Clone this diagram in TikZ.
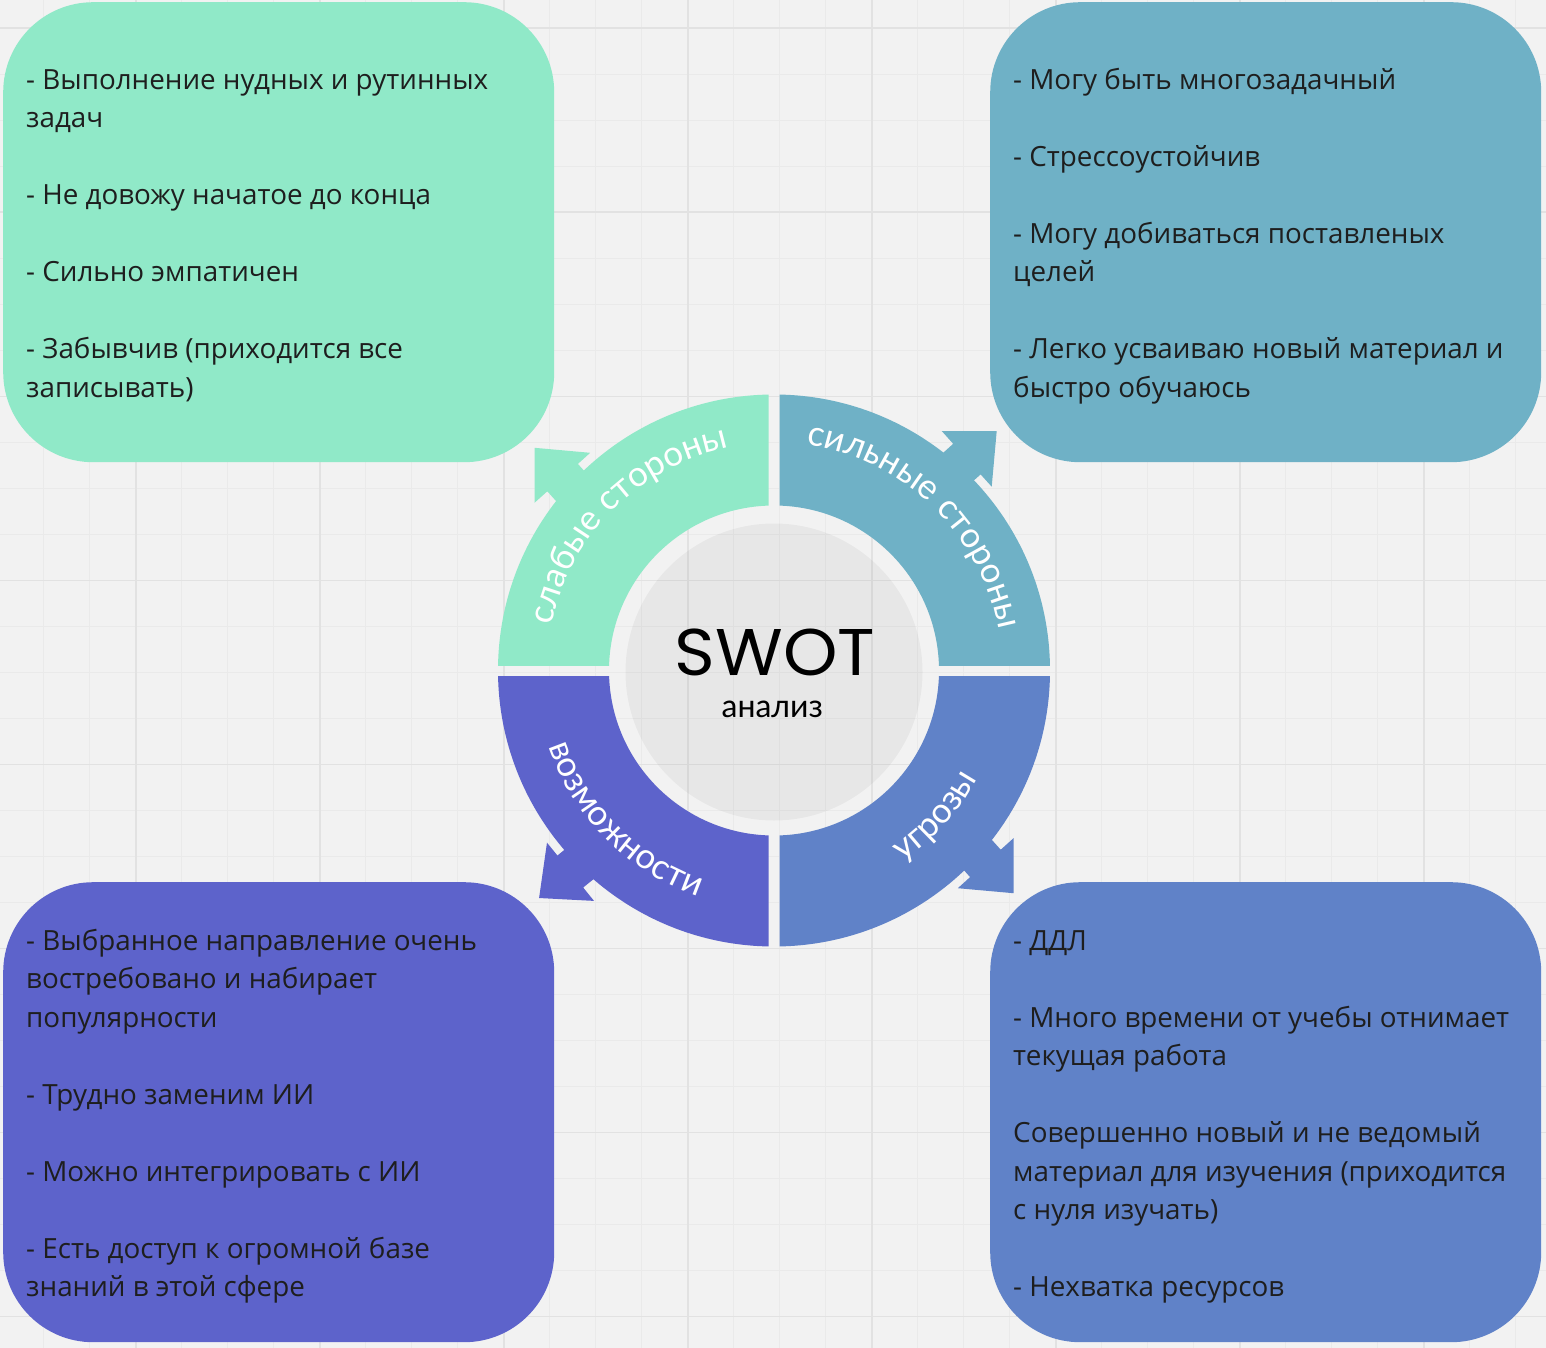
\documentclass[tikz,border=0pt]{standalone}
\usepackage{fontspec}
\setmainfont{Open Sans}
\newfontfamily\arcfont{Lato}
\newfontfamily\titlefont{Poppins}
\usetikzlibrary{calc,decorations.text}

\definecolor{bg}{HTML}{F2F2F2}
\definecolor{gridminor}{HTML}{EAEAEA}
\definecolor{gridmajor}{HTML}{E2E2E2}
\definecolor{weakc}{HTML}{90E9C8}
\definecolor{strongc}{HTML}{6FB1C6}
\definecolor{oppc}{HTML}{5D63CB}
\definecolor{threatc}{HTML}{6082C8}
\definecolor{ink}{HTML}{1E1E1E}

\newcommand\arcstyle{\arcfont\fontsize{35}{35}\selectfont\color{white}}
% one text line inside a card: name, x, baseline y, text
\newcommand\cardline[4]{\node[cardtext] (#1) at (#2,-#3) {#4};}
% arrow head with its neck, drawn for the upper right segment and rotated about the centre
\newcommand\headshape{(941.7,-431) -- (996.7,-431) -- (991.7,-486.7) -- (980.6,-474.4)
  -- (962,-491.1) -- (934.6,-460.5) -- (953.2,-443.8) -- cycle}

\begin{document}
\begin{tikzpicture}[x=1pt,y=1pt,
  card/.style={rounded corners=90pt, inner sep=0pt, anchor=north west,
    minimum width=551pt, minimum height=460pt},
  cardtext/.style={anchor=base west, inner sep=0pt, text=ink,
    font=\fontsize{27.8}{38.5}\selectfont},
  ring/.style={even odd rule}]

% canvas and grid
\fill[bg] (0,0) rectangle (1546,-1348);
\useasboundingbox (0,0) rectangle (1546,-1348);
\foreach \i in {0,...,32} \draw[gridminor, line width=1.2pt] ({43.7+46*\i},0) -- ++(0,-1348);
\foreach \i in {0,...,28} \draw[gridminor, line width=1.2pt] (0,{-28.3-46*\i}) -- ++(1546,0);
\foreach \i in {0,...,7} \draw[gridmajor, line width=1.6pt] ({135.7+184*\i},0) -- ++(0,-1348);
\foreach \i in {0,...,7} \draw[gridmajor, line width=1.6pt] (0,{-28.3-184*\i}) -- ++(1546,0);

% four cards
\node[card, fill=weakc]   (weakbox)   at (3,-2)     {};
\node[card, fill=strongc] (strongbox) at (990,-2)   {};
\node[card, fill=oppc]    (oppbox)    at (3,-882)   {};
\node[card, fill=threatc] (threatbox) at (990,-882) {};

% ring centre
\coordinate (C) at (774,-670.5);

% ring segments
\begin{scope}
  \clip (400,-300) rectangle (768.5,-665);
  \fill[weakc, ring] (C) circle (276) (C) circle (165);
  \fill[weakc, rotate around={90:(C)}] \headshape;
\end{scope}
\begin{scope}
  \clip (779.5,-300) rectangle (1150,-665);
  \fill[strongc, ring] (C) circle (276) (C) circle (165);
  \fill[strongc] \headshape;
\end{scope}
\begin{scope}
  \clip (400,-676) rectangle (768.5,-1050);
  \fill[oppc, ring] (C) circle (276) (C) circle (165);
  \fill[oppc, rotate around={-183:(C)}] \headshape;
\end{scope}
\begin{scope}
  \clip (779.5,-676) rectangle (1150,-1050);
  \fill[threatc, ring] (C) circle (276) (C) circle (165);
  \fill[threatc, rotate around={-90:(C)}] \headshape;
\end{scope}

% centre disc
\fill[black, opacity=0.045] (774,-672) circle (148.5);
\node[font=\titlefont\fontsize{66}{66}\selectfont, anchor=base, inner sep=0pt] (swot) at (775,-675) {\scalebox{1.05}[1]{SWOT}};
\node[font=\arcfont\fontsize{32}{32}\selectfont, anchor=base, inner sep=0pt] (analysis) at (772.3,-717.3) {анализ};

% segment labels
\path[decorate, decoration={text along path, text align=center,
  text={|\arcstyle|слабые стороны}}] ($(C)+(180:227)$) arc (180:90:227);
\path[decorate, decoration={text along path, text align=center,
  text={|\arcstyle|сильные стороны}}] ($(C)+(91:228)$) arc (91:1:228);
\path[decorate, decoration={text along path, text align=center,
  text={|\arcstyle|возможности}}] ($(C)+(180:238)$) arc (180:270:238);
\path[decorate, decoration={text along path, text align=center,
  text={|\arcstyle|угрозы}}] ($(C)+(273:230)$) arc (273:363:230);

% weaknesses
\cardline{w1}{26}{89.3}{- Выполнение нудных и рутинных}
\cardline{w2}{26}{127.8}{задач}
\cardline{w3}{26}{204.8}{- Не довожу начатое до конца}
\cardline{w4}{26}{281.8}{- Сильно эмпатичен}
\cardline{w5}{26}{358.8}{- Забывчив (приходится все}
\cardline{w6}{26}{397.3}{записывать)}

% strengths
\cardline{s1}{1013}{89.3}{- Могу быть многозадачный}
\cardline{s2}{1013}{166.3}{- Стрессоустойчив}
\cardline{s3}{1013}{243.3}{- Могу добиваться поставленых}
\cardline{s4}{1013}{281.8}{целей}
\cardline{s5}{1013}{358.8}{- Легко усваиваю новый материал и}
\cardline{s6}{1013}{397.3}{быстро обучаюсь}

% opportunities
\cardline{o1}{26}{950.3}{- Выбранное направление очень}
\cardline{o2}{26}{988.8}{востребовано и набирает}
\cardline{o3}{26}{1027.3}{популярности}
\cardline{o4}{26}{1104.3}{- Трудно заменим ИИ}
\cardline{o5}{26}{1181.3}{- Можно интегрировать с ИИ}
\cardline{o6}{26}{1258.3}{- Есть доступ к огромной базе}
\cardline{o7}{26}{1296.8}{знаний в этой сфере}

% threats
\cardline{t1}{1013}{950.3}{- ДДЛ}
\cardline{t2}{1013}{1027.3}{- Много времени от учебы отнимает}
\cardline{t3}{1013}{1065.8}{текущая работа}
\cardline{t4}{1013}{1142.8}{Совершенно новый и не ведомый}
\cardline{t5}{1013}{1181.3}{материал для изучения (приходится}
\cardline{t6}{1013}{1219.8}{с нуля изучать)}
\cardline{t7}{1013}{1296.8}{- Нехватка ресурсов}

\end{tikzpicture}
\end{document}
